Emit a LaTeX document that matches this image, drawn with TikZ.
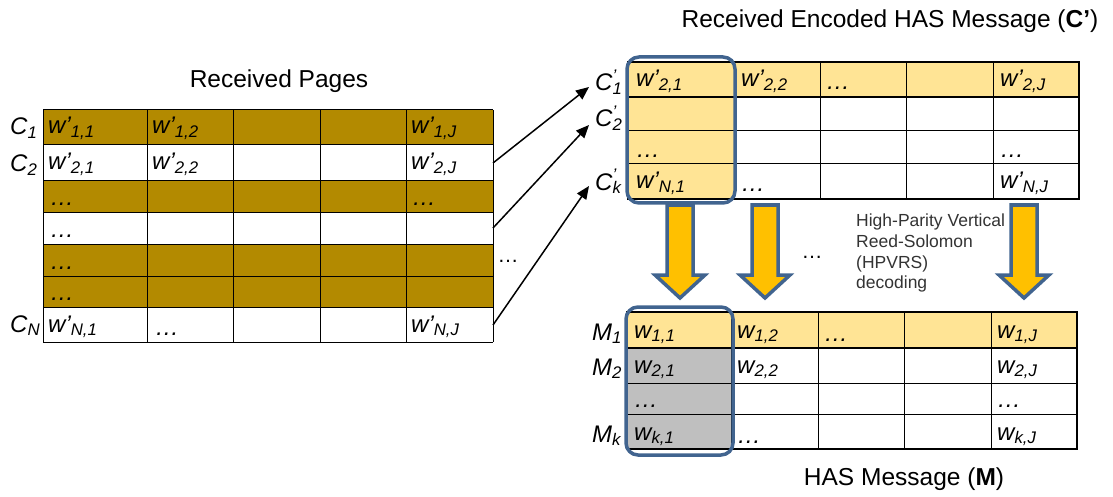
\documentclass[tikz,border=0pt]{standalone}
\usepackage{fontspec}
\setmainfont{Liberation Sans}
\usetikzlibrary{arrows.meta}

\definecolor{pagebrown}{HTML}{B38A00}
\definecolor{lightgold}{HTML}{FFE495}
\definecolor{arrowgold}{HTML}{FFC000}
\definecolor{frameblue}{HTML}{41648F}
\definecolor{cellgray}{HTML}{BFBFBF}
\definecolor{notegray}{HTML}{333333}

% symbol with subscript, e.g. \sym{w'}{1,1}
\newcommand\sym[2]{\textit{#1\textsubscript{#2}}}
% primed symbol with the prime stacked over the subscript
\newcommand\psym[2]{\textit{#1\rlap{\textsuperscript{’}}\textsubscript{#2}}}

\begin{document}
\begin{tikzpicture}[x=1pt,y=-1pt,
  gridline/.style={line width=1pt,black},
  thickline/.style={line width=1.8pt,black},
  celltext/.style={anchor=base west,inner sep=0pt,font=\fontsize{24}{28}\selectfont},
  rowlabel/.style={anchor=base west,inner sep=0pt,font=\fontsize{24}{28}\selectfont},
  titletext/.style={anchor=base,inner sep=0pt,font=\fontsize{24.5}{28}\selectfont},
  smalltext/.style={anchor=base west,inner sep=0pt,text=notegray,font=\fontsize{17.5}{21}\selectfont},
  dotstext/.style={anchor=base,inner sep=0pt,font=\fontsize{21}{24}\selectfont},
  colframe/.style={draw=frameblue,line width=3.5pt,rounded corners=12pt},
  blockarrow/.style={fill=arrowgold,draw=frameblue,line width=3.5pt,line join=miter},
  feed/.style={line width=1.5pt,-{Triangle[length=13pt,width=11pt]}}]
\useasboundingbox (0,0) rectangle (1113,497);

% ---------------- received pages ----------------
\node[titletext] (tpages) at (279,88) {Received Pages};
\fill[pagebrown] (43,110) rectangle (493,145);
\fill[pagebrown] (43,181) rectangle (493,212);
\fill[pagebrown] (43,244) rectangle (493,307);
\foreach \x in {43,147,233,320,406,493}
  \draw[gridline] (\x,110) -- (\x,342);
\foreach \y in {110,145,181,212,244,276,307,342}
  \draw[gridline] (43,\y) -- (493,\y);

\node[rowlabel] (c1) at (10,135) {\sym{C}{1}};
\node[rowlabel] (c2) at (10,172) {\sym{C}{2}};
\node[rowlabel] (cn) at (10,332) {\sym{C}{N}};

\node[celltext] (p11) at (48,134)  {\sym{w'}{1,1}};
\node[celltext] (p12) at (152,134) {\sym{w'}{1,2}};
\node[celltext] (p1j) at (411,134) {\sym{w'}{1,J}};
\node[celltext] (p21) at (48,170)  {\sym{w'}{2,1}};
\node[celltext] (p22) at (152,170) {\sym{w'}{2,2}};
\node[celltext] (p2j) at (411,170) {\sym{w'}{2,J}};
\node[celltext] (p31) at (50,205)  {\textit{…}};
\node[celltext] (p3j) at (412,205) {\textit{…}};
\node[celltext] (p41) at (50,237)  {\textit{…}};
\node[celltext] (p51) at (50,269)  {\textit{…}};
\node[celltext] (p61) at (50,300)  {\textit{…}};
\node[celltext] (pn1) at (48,332)  {\sym{w'}{N,1}};
\node[celltext] (pn2) at (155,335) {\textit{…}};
\node[celltext] (pnj) at (411,332) {\sym{w'}{N,J}};

\node[dotstext] (pdots) at (508,262) {…};

% ---------------- received encoded message ----------------
\node[titletext] (tenc) at (890,28) {Received Encoded HAS Message (\textbf{C’})};
\fill[lightgold] (628,62) rectangle (1079,97);
\fill[lightgold] (628,97) rectangle (734,199);
\foreach \x in {734,820,906,993}
  \draw[gridline] (\x,62) -- (\x,199);
\foreach \y in {131,164}
  \draw[gridline] (628,\y) -- (1079,\y);
\draw[thickline] (628,62) rectangle (1079,199);
\draw[thickline] (628,97) -- (1079,97);

\node[rowlabel] (e1) at (595,91)  {\psym{C}{1}};
\node[rowlabel] (e2) at (595,127) {\psym{C}{2}};
\node[rowlabel] (ek) at (595,190) {\psym{C}{k}};

\node[celltext] (r11) at (636,87)   {\sym{w'}{2,1}};
\node[celltext] (r12) at (741,87)   {\sym{w'}{2,2}};
\node[celltext] (r13) at (826,90)   {\textit{…}};
\node[celltext] (r1j) at (1000,87)  {\sym{w'}{2,J}};
\node[celltext] (r31) at (636,158)  {\textit{…}};
\node[celltext] (r3j) at (1000,158) {\textit{…}};
\node[celltext] (rn1) at (636,189)  {\sym{w'}{N,1}};
\node[celltext] (rn2) at (741,192)  {\textit{…}};
\node[celltext] (rnj) at (1000,189) {\sym{w'}{N,J}};

\draw[colframe] (627,57) rectangle (735,203);

% ---------------- page-to-row connectors ----------------
\coordinate (s2) at (493,163);
\coordinate (s4) at (493,228);
\coordinate (s7) at (493,325);
\coordinate (d1) at (589,87);
\coordinate (d2) at (589,125);
\coordinate (dk) at (589,186);
\draw[feed] (s2) -- (d1);
\draw[feed] (s4) -- (d2);
\draw[feed] (s7) -- (dk);

% ---------------- decoding arrows ----------------
\foreach \cx in {680,765,1024}
  \draw[blockarrow] (\cx-13,205) -- (\cx+13,205) -- (\cx+13,275) -- (\cx+25,275)
    -- (\cx,298) -- (\cx-25,275) -- (\cx-13,275) -- cycle;
\node[dotstext] (adots) at (812,258) {…};
\node[smalltext] (hp1) at (856,226) {High-Parity Vertical};
\node[smalltext] (hp2) at (856,247) {Reed-Solomon};
\node[smalltext] (hp3) at (856,268) {(HPVRS)};
\node[smalltext] (hp4) at (856,288) {decoding};

% ---------------- HAS message ----------------
\fill[lightgold] (627,312) rectangle (1077,348);
\fill[cellgray] (627,348) rectangle (731,449);
\foreach \x in {731,818,904,991}
  \draw[gridline] (\x,312) -- (\x,449);
\foreach \y in {383,414}
  \draw[gridline] (627,\y) -- (1077,\y);
\draw[thickline] (627,312) rectangle (1077,449);
\draw[thickline] (627,348) -- (1077,348);

\node[rowlabel] (m1) at (592,340) {\sym{M}{1}};
\node[rowlabel] (m2) at (592,375) {\sym{M}{2}};
\node[rowlabel] (mk) at (592,442) {\sym{M}{k}};

\node[celltext] (q11) at (634,338) {\sym{w}{1,1}};
\node[celltext] (q12) at (737,338) {\sym{w}{1,2}};
\node[celltext] (q13) at (824,341) {\textit{…}};
\node[celltext] (q1j) at (997,338) {\sym{w}{1,J}};
\node[celltext] (q21) at (634,373) {\sym{w}{2,1}};
\node[celltext] (q22) at (737,373) {\sym{w}{2,2}};
\node[celltext] (q2j) at (997,373) {\sym{w}{2,J}};
\node[celltext] (q31) at (634,407) {\textit{…}};
\node[celltext] (q3j) at (997,407) {\textit{…}};
\node[celltext] (qk1) at (634,440) {\sym{w}{k,1}};
\node[celltext] (qk2) at (737,443) {\textit{…}};
\node[celltext] (qkj) at (997,440) {\sym{w}{k,J}};

\draw[colframe] (626,307) rectangle (733,455);

\node[titletext] (tmsg) at (904,485) {HAS Message (\textbf{M})};
\end{tikzpicture}
\end{document}
